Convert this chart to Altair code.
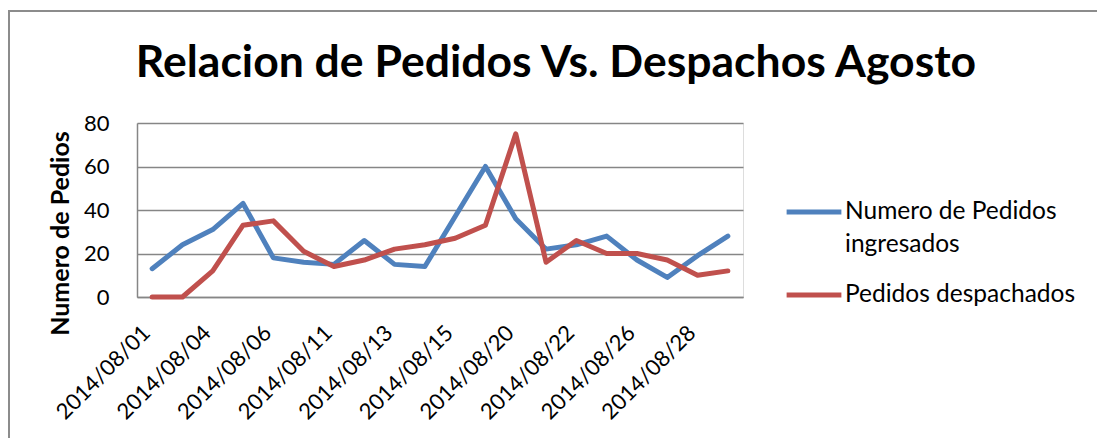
import altair as alt
import pandas as pd

dates = ["2014/08/01", "2014/08/02", "2014/08/04", "2014/08/05", "2014/08/06",
         "2014/08/08", "2014/08/11", "2014/08/12", "2014/08/13", "2014/08/14",
         "2014/08/15", "2014/08/19", "2014/08/20", "2014/08/21", "2014/08/22",
         "2014/08/25", "2014/08/26", "2014/08/27", "2014/08/28", "2014/08/29"]
labeled = ["2014/08/01", "2014/08/04", "2014/08/06", "2014/08/11", "2014/08/13",
           "2014/08/15", "2014/08/20", "2014/08/22", "2014/08/26", "2014/08/28"]
ingresados = [13, 24, 31, 43, 18, 16, 15, 26, 15, 14, 37, 60, 36, 22, 24, 28, 17, 9, 19, 28]
despachados = [0, 0, 12, 33, 35, 21, 14, 17, 22, 24, 27, 33, 75, 16, 26, 20, 20, 17, 10, 12]
series = ["Numero de Pedidos ingresados", "Pedidos despachados"]
colors = ["#4F81BD", "#C0504D"]

df = pd.concat([
    pd.DataFrame({"fecha": dates, "valor": ingresados, "serie": series[0]}),
    pd.DataFrame({"fecha": dates, "valor": despachados, "serie": series[1]}),
])

FONT = "Lato"

border = alt.Chart(pd.DataFrame({"a": [0]})).mark_rect(
    fill=None, stroke="#8c8c8c", strokeWidth=2, clip=False
).encode(x=alt.value(-128), x2=alt.value(1200), y=alt.value(-112), y2=alt.value(500))

lines = alt.Chart(df).mark_line(strokeWidth=5, strokeCap="round", strokeJoin="round").encode(
    x=alt.X("fecha:O", sort=dates,
            scale=alt.Scale(type="point", padding=0.5),
            axis=alt.Axis(values=labeled, title=None, labelAngle=-45, labelAlign="right",
                          labelBaseline="middle", labelPadding=32, labelOffset=-6, ticks=False,
                          domainColor="#868686", domainWidth=1.5,
                          labelFont=FONT, labelFontSize=22, labelColor="#000000", grid=False)),
    y=alt.Y("valor:Q", scale=alt.Scale(domain=[0, 80], nice=False),
            axis=alt.Axis(values=[0, 20, 40, 60, 80], title="Numero de Pedios",
                          titleFont=FONT, titleFontSize=25, titleFontWeight="bold",
                          titleColor="#000000", titleAngle=-90, titleX=-77, titleY=110,
                          titleAlign="center", titleBaseline="middle",
                          labelFont=FONT, labelFontSize=22, labelColor="#000000",
                          labelPadding=28, ticks=False, domainColor="#868686",
                          domainWidth=1.5, gridColor="#868686", gridWidth=1.5)),
    color=alt.Color("serie:N", sort=series,
                    scale=alt.Scale(domain=series, range=colors),
                    legend=alt.Legend(title=None, orient="none", legendX=647, legendY=59,
                                      symbolType="stroke", symbolSize=3000,
                                      symbolStrokeWidth=5, labelFont=FONT,
                                      labelFontSize=24.5, labelColor="#000000",
                                      labelLimit=400, rowPadding=8, labelOffset=1,
                                      labelExpr="datum.label == 'Numero de Pedidos ingresados' ? ['Numero de Pedidos', 'ingresados'] : datum.label")),
)

chart = alt.layer(border, lines).properties(
    width=606, height=174,
    title=alt.TitleParams("Relacion de Pedidos Vs. Despachos Agosto", font=FONT,
                          fontSize=44.5, fontWeight="bold", color="#000000",
                          anchor="middle", frame="group", dx=116, dy=157, offset=46,
                          baseline="alphabetic"),
    autosize=alt.AutoSizeParams(type="none"),
    padding={"left": 137, "top": 123, "right": 354, "bottom": 141},
).configure_view(stroke=None).configure(
    background="white", style={"guide-label": {"lineHeight": 33}})

chart.save("out.html", embed_options={"renderer": "svg", "actions": False})
